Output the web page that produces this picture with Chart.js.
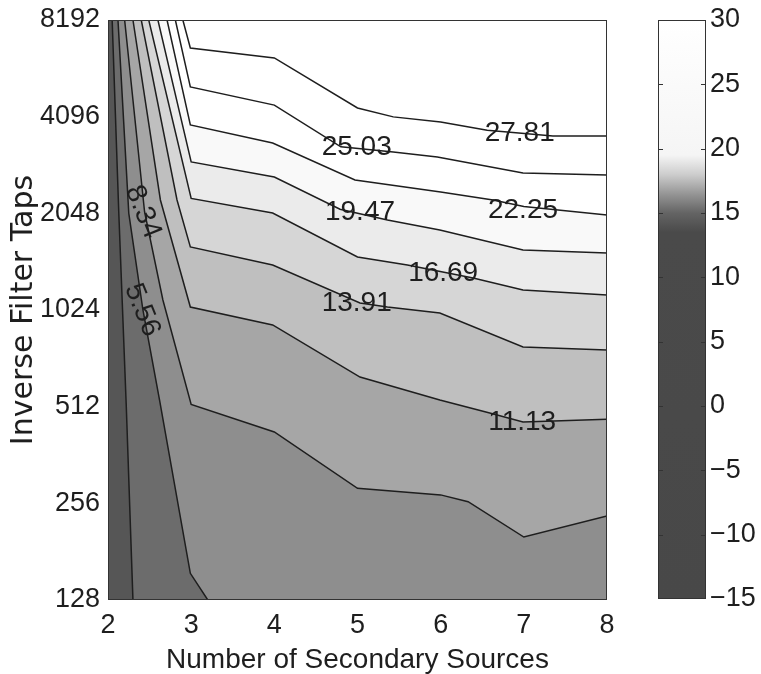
<!DOCTYPE html>
<html>
<head>
<meta charset="utf-8">
<script src="https://cdn.jsdelivr.net/npm/chart.js@4.4.1/dist/chart.umd.min.js"></script>
<style>
  html, body { margin: 0; padding: 0; background: #fff; }
  #wrap { position: relative; width: 761px; height: 674px; }
  #wrap canvas { position: absolute; left: 0; top: 0; }
</style>
</head>
<body>
<div id="wrap">
  <canvas id="plot" width="761" height="674"></canvas>
  <canvas id="cbar" width="761" height="674"></canvas>
</div>
<script>
const xTicks = [2, 3, 4, 5, 6, 7, 8];
const yTicks = [128, 256, 512, 1024, 2048, 4096, 8192];
const cbTicks = [-15, -10, -5, 0, 5, 10, 15, 20, 25, 30];

const levels = [2.78, 5.56, 8.34, 11.13, 13.91, 16.69, 19.47, 22.25, 25.03, 27.81];

// contour lines as [secondary sources, taps]
const c0278 = [[2.05, 8192], [2.13, 2048], [2.22, 512], [2.30, 128], [8, 128]];
const c0556 = [[2.12, 8192], [2.25, 2048], [2.42, 1024], [2.62, 537], [2.99, 155], [3.2, 128], [8, 128]];
const c0834 = [[2.20, 8192], [2.44, 2068], [2.66, 1100], [3.0, 520], [4.0, 427], [5.0, 285], [6.0, 272], [6.33, 259], [7.0, 201], [8, 234]];
const c1113 = [[2.30, 8192], [2.63, 2254], [2.99, 1046], [3.98, 920], [5.03, 633], [5.99, 537], [6.59, 489], [6.99, 459], [8, 468]];
const c1391 = [[2.40, 8192], [2.83, 2254], [2.99, 1609], [3.98, 1414], [5.03, 1077], [5.36, 1046], [5.99, 1002], [6.99, 785], [8, 769]];
const c1669 = [[2.49, 8192], [3.0, 2280], [3.98, 2053], [5.0, 1497], [5.6, 1414], [6.39, 1288], [6.99, 1182], [8, 1140]];
const c1947 = [[2.60, 8192], [3.0, 2960], [4.0, 2657], [4.79, 2110], [5.36, 1952], [5.99, 1818], [6.99, 1575], [8, 1541]];
const c2225 = [[2.71, 8192], [2.99, 3860], [3.98, 3390], [4.97, 2600], [6.0, 2386], [6.63, 2254], [7.0, 2150], [8, 2024]];
const c2503 = [[2.81, 8192], [2.99, 5070], [4.0, 4450], [4.8, 3300], [5.43, 3180], [5.96, 3067], [6.99, 2734], [8, 2696]];
const c2781 = [[2.90, 8192], [2.99, 6700], [4.0, 6240], [5.0, 4360], [5.43, 4090], [6.0, 3940], [6.56, 3716], [7.35, 3566], [8, 3566]];
const contours = [c0278, c0556, c0834, c1113, c1391, c1669, c1947, c2225, c2503, c2781];

// inline labels: text, position (sources, taps), angle
const labelText = ['5.56', '8.34', '11.13', '13.91', '16.69', '19.47', '22.25', '25.03', '27.81'];
const labelX = [2.41, 2.42, 6.98, 4.99, 6.03, 5.03, 6.99, 4.99, 6.95];
const labelY = [1024, 2068, 459, 1077, 1335, 2068, 2098, 3296, 3644];
const labelAngle = [68, 68, 0, 0, 0, 0, 0, 0, 0];

// colour bar map (value -> grey level)
const cmapValues = [-15, 13.5, 15, 16.5, 18, 19.5, 30];
const cmapGrays = [72, 74, 100, 150, 205, 245, 255];

// fill shade above each level
const shades = ['#6c6c6c', '#8e8e8e', '#a6a6a6', '#bfbfbf', '#d6d6d6', '#ebebeb', '#f9f9f9', '#ffffff', '#ffffff', '#ffffff'];
const baseShade = '#565656';

const FONT = "'Liberation Sans', Arial, sans-serif";
const INK = '#1e1e1e';
const gray = (g) => `rgb(${g},${g},${g})`;

const plotDecor = {
  id: 'plotDecor',
  beforeDatasetsDraw(chart) {
    const { ctx, chartArea: { left, top, right, bottom } } = chart;
    ctx.save();
    ctx.fillStyle = baseShade;
    ctx.fillRect(left, top, right - left, bottom - top);
    ctx.restore();
  },
  afterDatasetsDraw(chart) {
    const { ctx, chartArea: { left, top, right, bottom }, scales: { x, y } } = chart;
    ctx.save();
    ctx.font = `28px ${FONT}`;
    ctx.textAlign = 'center';
    ctx.textBaseline = 'middle';
    ctx.fillStyle = INK;
    labelText.forEach((t, i) => {
      ctx.save();
      ctx.translate(x.getPixelForValue(labelX[i]), y.getPixelForValue(labelY[i]));
      ctx.rotate(labelAngle[i] * Math.PI / 180);
      ctx.fillText(t, 0, 0);
      ctx.restore();
    });
    ctx.strokeStyle = '#333';
    ctx.lineWidth = 1;
    ctx.strokeRect(left + 0.5, top + 0.5, right - left - 1, bottom - top - 1);
    ctx.restore();
  },
};

new Chart(document.getElementById('plot'), {
  type: 'scatter',
  plugins: [plotDecor],
  data: {
    datasets: contours.map((pts, i) => ({
      label: String(levels[i]),
      data: pts.map(([x, y]) => ({ x, y })),
      showLine: true,
      pointRadius: 0,
      borderColor: INK,
      borderWidth: 1.5,
      backgroundColor: shades[i],
      fill: 'end',
      tension: 0,
      order: levels.length - i,
    })),
  },
  options: {
    responsive: false,
    animation: false,
    devicePixelRatio: 1,
    layout: { padding: { top: 20, right: 154, left: 0, bottom: 0 } },
    plugins: { legend: { display: false }, tooltip: { enabled: false } },
    scales: {
      x: {
        type: 'linear', min: 2, max: 8,
        afterBuildTicks: (s) => { s.ticks = xTicks.map((v) => ({ value: v })); },
        afterFit: (s) => { s.height = 74; },
        grid: { display: false, drawTicks: false },
        border: { display: false },
        ticks: { color: INK, font: { family: FONT, size: 27 }, padding: 9, maxRotation: 0, autoSkip: false },
        title: {
          display: true, text: 'Number of Secondary Sources', color: INK,
          font: { family: FONT, size: 28, lineHeight: 1 }, padding: { top: 0, bottom: 0 },
        },
      },
      y: {
        type: 'logarithmic', min: 128, max: 8192,
        afterBuildTicks: (s) => { s.ticks = yTicks.map((v) => ({ value: v })); },
        afterFit: (s) => { s.width = 108; },
        grid: { display: false, drawTicks: false },
        border: { display: false },
        ticks: {
          color: INK, font: { family: FONT, size: 27, lineHeight: 0.8 }, padding: 8,
          autoSkip: false, callback: (v) => String(v),
        },
        title: {
          display: true, text: 'Inverse Filter Taps', color: INK,
          font: { family: "'DejaVu Sans', sans-serif", size: 30 }, padding: { top: 6 },
        },
      },
    },
  },
});

const cbarDecor = {
  id: 'cbarDecor',
  afterDatasetsDraw(chart) {
    const { ctx, chartArea: { left, top, right, bottom }, scales: { y } } = chart;
    ctx.save();
    ctx.strokeStyle = '#333';
    ctx.lineWidth = 1;
    ctx.strokeRect(left + 0.5, top + 0.5, right - left - 1, bottom - top - 1);
    cbTicks.slice(1, -1).forEach((v) => {
      const py = Math.round(y.getPixelForValue(v)) + 0.5;
      ctx.beginPath();
      ctx.moveTo(left, py); ctx.lineTo(left + 5, py);
      ctx.moveTo(right - 5, py); ctx.lineTo(right, py);
      ctx.stroke();
    });
    ctx.restore();
  },
};

new Chart(document.getElementById('cbar'), {
  type: 'bar',
  plugins: [cbarDecor],
  data: {
    labels: [''],
    datasets: [{
      data: [[cbTicks[0], cbTicks[cbTicks.length - 1]]],
      barPercentage: 1,
      categoryPercentage: 1,
      borderWidth: 0,
      backgroundColor: (c) => {
        const { chart } = c;
        if (!chart.chartArea) return gray(74);
        const y = chart.scales.y;
        const lo = cmapValues[0];
        const hi = cmapValues[cmapValues.length - 1];
        const g = chart.ctx.createLinearGradient(0, y.getPixelForValue(lo), 0, y.getPixelForValue(hi));
        cmapValues.forEach((v, i) => g.addColorStop((v - lo) / (hi - lo), gray(cmapGrays[i])));
        return g;
      },
    }],
  },
  options: {
    responsive: false,
    animation: false,
    devicePixelRatio: 1,
    layout: { padding: { top: 20, right: 0, left: 658, bottom: 75 } },
    plugins: { legend: { display: false }, tooltip: { enabled: false } },
    scales: {
      x: { display: false },
      y: {
        position: 'right', min: -15, max: 30,
        afterBuildTicks: (s) => { s.ticks = cbTicks.map((v) => ({ value: v })); },
        afterFit: (s) => { s.width = 55; },
        grid: { display: false, drawTicks: false },
        border: { display: false },
        ticks: {
          color: INK, font: { family: FONT, size: 27, lineHeight: 0.8 }, padding: 4, autoSkip: false,
          callback: (v) => String(v).replace('-', '\u2212'),
        },
      },
    },
  },
});
</script>
</body>
</html>
